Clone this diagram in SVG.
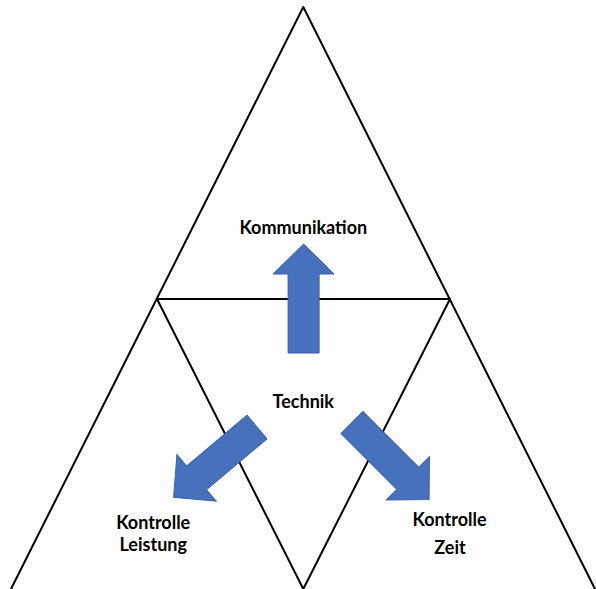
<svg xmlns="http://www.w3.org/2000/svg" width="596" height="589" viewBox="0 0 596 589">
  <style>
    .ln { stroke: #000; stroke-width: 2; fill: none; stroke-linecap: round; stroke-linejoin: round; }
    .lbl { font-family: Lato, "Liberation Sans", sans-serif; font-weight: bold; font-size: 18px; fill: #000; text-anchor: middle; }
    .arr { fill: #4770bd; stroke: #3a60a6; stroke-width: 1; }
  </style>
  <defs>
    <path id="arrow" d="M0,-15.5 L79,-15.5 L79,-30.5 L109,0 L79,30.5 L79,15.5 L0,15.5 Z"/>
  </defs>
  <g id="lines">
    <path class="ln" d="M11,589 L303.3,7 L595,589"/>
    <path class="ln" d="M157,299 L450,299"/>
    <path class="ln" d="M157,299 L303.3,589 L450,299"/>
  </g>
  <g id="connectors">
    <use href="#arrow" class="arr" transform="translate(303.6,353) rotate(-90)"/>
    <use href="#arrow" class="arr" transform="translate(257,427) rotate(139.9)"/>
    <use href="#arrow" class="arr" transform="translate(352,422.5) rotate(45)"/>
  </g>
  <g id="kommunikation"><text class="lbl" x="303.3" y="233.5">Kommunikation</text></g>
  <g id="technik"><text class="lbl" x="303.3" y="408">Technik</text></g>
  <g id="kontrolle-leistung"><text class="lbl" x="153.2" y="528.5">Kontrolle</text><text class="lbl" x="153.2" y="550.5">Leistung</text></g>
  <g id="kontrolle-zeit"><text class="lbl" x="449.5" y="525.5">Kontrolle</text><text class="lbl" x="450" y="553.5">Zeit</text></g>
</svg>
